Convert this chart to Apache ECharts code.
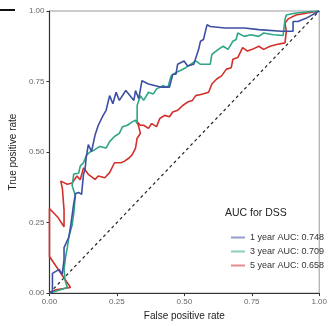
<!DOCTYPE html>
<html>
<head>
<meta charset="utf-8">
<script src="https://cdn.jsdelivr.net/npm/echarts@6/dist/echarts.min.js"></script>
<style>
  html, body { margin: 0; padding: 0; background: #fff; }
  #chart { width: 330px; height: 326px; }
</style>
</head>
<body>
<div id="chart"></div>
<script>
// ROC points: [false positive rate, true positive rate]
const roc1y = [[0,0],[0.011,0.003],[0.011,0.07],[0.036,0.084],[0.047,0.066],[0.054,0.119],[0.054,0.161],[0.072,0.199],[0.079,0.241],[0.09,0.318],[0.097,0.353],[0.108,0.357],[0.119,0.35],[0.126,0.42],[0.132,0.44],[0.136,0.479],[0.144,0.526],[0.156,0.502],[0.169,0.56],[0.181,0.595],[0.199,0.63],[0.21,0.648],[0.223,0.7],[0.235,0.671],[0.247,0.712],[0.259,0.683],[0.283,0.718],[0.313,0.683],[0.319,0.718],[0.331,0.689],[0.343,0.753],[0.367,0.741],[0.415,0.73],[0.445,0.73],[0.457,0.776],[0.469,0.776],[0.475,0.811],[0.499,0.823],[0.512,0.805],[0.535,0.811],[0.553,0.864],[0.56,0.893],[0.571,0.899],[0.584,0.951],[0.596,0.945],[0.65,0.94],[0.722,0.94],[0.776,0.934],[0.86,0.928],[0.903,0.928],[0.903,0.963],[0.921,0.963],[0.951,0.974],[1,1]];
const roc3y = [[0,0],[0.02,0.006],[0.066,0.02],[0.058,0.045],[0.054,0.084],[0.06,0.13],[0.066,0.16],[0.072,0.2],[0.084,0.241],[0.09,0.282],[0.096,0.345],[0.084,0.381],[0.09,0.422],[0.108,0.425],[0.114,0.45],[0.126,0.462],[0.138,0.49],[0.15,0.5],[0.162,0.505],[0.187,0.52],[0.21,0.514],[0.223,0.537],[0.241,0.555],[0.259,0.566],[0.271,0.59],[0.289,0.595],[0.307,0.607],[0.319,0.613],[0.325,0.601],[0.325,0.665],[0.337,0.7],[0.349,0.683],[0.367,0.712],[0.385,0.706],[0.397,0.724],[0.421,0.735],[0.439,0.73],[0.451,0.77],[0.469,0.782],[0.487,0.79],[0.505,0.799],[0.523,0.811],[0.542,0.823],[0.56,0.811],[0.596,0.811],[0.602,0.846],[0.626,0.864],[0.644,0.875],[0.662,0.864],[0.68,0.893],[0.692,0.899],[0.698,0.922],[0.722,0.91],[0.746,0.916],[0.776,0.91],[0.794,0.922],[0.83,0.916],[0.866,0.913],[0.873,0.969],[0.878,0.986],[0.909,0.992],[0.969,0.998],[1,1]];
const roc5y = [[0,0],[0.024,0.012],[0.078,0.02],[0,0.13],[0,0.3],[0.03,0.27],[0.054,0.235],[0.06,0.24],[0.054,0.294],[0.048,0.37],[0.042,0.397],[0.066,0.386],[0.084,0.39],[0.102,0.415],[0.114,0.402],[0.126,0.444],[0.144,0.421],[0.169,0.403],[0.181,0.415],[0.205,0.409],[0.223,0.427],[0.241,0.462],[0.265,0.462],[0.277,0.467],[0.295,0.479],[0.307,0.491],[0.319,0.514],[0.325,0.549],[0.337,0.566],[0.331,0.59],[0.325,0.607],[0.337,0.595],[0.349,0.595],[0.367,0.584],[0.379,0.601],[0.397,0.59],[0.409,0.619],[0.427,0.63],[0.445,0.625],[0.457,0.642],[0.475,0.648],[0.494,0.665],[0.512,0.677],[0.53,0.683],[0.542,0.7],[0.565,0.705],[0.59,0.712],[0.602,0.741],[0.62,0.759],[0.638,0.77],[0.656,0.794],[0.674,0.799],[0.68,0.829],[0.698,0.835],[0.716,0.87],[0.734,0.858],[0.752,0.864],[0.776,0.875],[0.794,0.864],[0.818,0.875],[0.842,0.881],[0.873,0.887],[0.878,0.928],[0.873,0.957],[0.885,0.972],[0.914,0.986],[0.951,0.992],[1,1]];
const chance = [[0,0],[1,1]];

const seriesNames = ['1 year AUC: 0.748', '3 year AUC: 0.709', '5 year AUC: 0.658'];
const seriesColors = ['#3d4fa2', '#2ea687', '#d3302b'];
const axisTicks = [0, 0.25, 0.5, 0.75, 1];

const FONT = 'Liberation Sans, Arial, sans-serif';
const chart = echarts.init(document.getElementById('chart'), null, { renderer: 'canvas' });

function rocSeries(name, data, color) {
  return {
    name: name,
    type: 'line',
    data: data,
    showSymbol: false,
    symbol: 'none',
    animation: false,
    lineStyle: { color: color, width: 1.6 },
    itemStyle: { color: color }
  };
}

const axisCommon = {
  type: 'value',
  min: 0,
  max: 1,
  interval: 0.25,
  axisLine: { show: true, lineStyle: { color: '#333', width: 1.2 } },
  axisTick: { show: true, length: 3, lineStyle: { color: '#333' } },
  axisLabel: {
    color: '#666',
    fontSize: 8,
    fontFamily: FONT,
    margin: 5,
    formatter: function (v) { return v.toFixed(2); }
  },
  splitLine: { show: false },
  nameLocation: 'middle',
  nameTextStyle: { color: '#222', fontSize: 10, fontFamily: FONT }
};

chart.setOption({
  animation: false,
  backgroundColor: '#fff',
  grid: {
    left: 45, right: 8, top: 11, bottom: 29,
    show: true, borderColor: '#999', borderWidth: 1
  },
  xAxis: Object.assign({}, axisCommon, { name: 'False positive rate', nameGap: 15 }),
  yAxis: Object.assign({}, axisCommon, { name: 'True positive rate', nameGap: 26 }),
  legend: {
    orient: 'vertical',
    left: 226,
    top: 228,
    itemWidth: 14,
    itemHeight: 2,
    itemGap: 5,
    icon: 'rect',
    textStyle: { color: '#333', fontSize: 9, fontFamily: FONT },
    data: seriesNames.map(function (n) { return { name: n, itemStyle: { opacity: 0.55 } }; })
  },
  graphic: [
    { type: 'text', left: 225, top: 208, style: { text: 'AUC for DSS', fill: '#222', font: '10.5px ' + FONT } },
    { type: 'rect', shape: { x: 0, y: 9, width: 15, height: 2 }, style: { fill: '#111' } }
  ],
  series: [
    {
      type: 'line',
      data: chance,
      showSymbol: false,
      symbol: 'none',
      silent: true,
      lineStyle: { color: '#222', width: 1.2, type: [3, 3] }
    },
    rocSeries(seriesNames[2], roc5y, seriesColors[2]),
    rocSeries(seriesNames[1], roc3y, seriesColors[1]),
    rocSeries(seriesNames[0], roc1y, seriesColors[0])
  ]
});
</script>
</body>
</html>
